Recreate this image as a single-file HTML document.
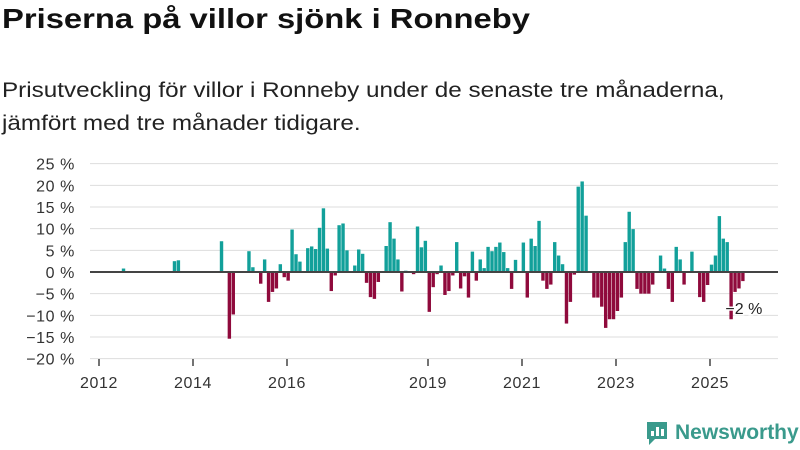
<!DOCTYPE html>
<html><head><meta charset="utf-8"><style>
body{margin:0;width:800px;height:450px;background:#fff;font-family:"Liberation Sans",sans-serif;overflow:hidden;position:relative}
h1{position:absolute;left:2px;top:3px;margin:0;font-size:28px;font-weight:bold;color:#111;transform:scaleX(1.17);transform-origin:0 0;white-space:nowrap}
p{position:absolute;left:2px;top:74px;margin:0;font-size:21px;line-height:33px;color:#222;transform:scaleX(1.155);transform-origin:0 0;white-space:nowrap}
</style></head><body>
<h1>Priserna på villor sjönk i Ronneby</h1>
<p>Prisutveckling för villor i Ronneby under de senaste tre månaderna,<br>jämfört med tre månader tidigare.</p>
<svg id="chart" width="800" height="450" style="position:absolute;left:0;top:0"></svg>
<div style="position:absolute;left:645px;top:420px;display:flex;align-items:center;gap:6px">
<svg width="24" height="26"><path d="M2 2h20v17h-12l-6 6v-6h-2z" fill="#3a9a8c"/><rect x="6" y="11" width="3" height="5" fill="#fff"/><rect x="11" y="7" width="3" height="9" fill="#fff"/><rect x="16" y="9" width="3" height="7" fill="#fff"/></svg>
<span style="font-size:21px;color:#3a9a8c;font-weight:bold">Newsworthy</span></div>
<script>
const months=[6,19,20,31,33,34,38,39,41,42,43,44,45,46,47,48,49,50,51,53,54,55,56,57,58,59,60,61,62,63,65,66,67,68,69,70,71,73,74,75,76,77,78,80,81,82,83,84,85,86,87,88,89,90,91,92,93,94,95,96,97,98,99,100,101,102,103,104,105,106,108,109,110,111,112,113,114,115,116,117,118,119,120,121,122,123,124,126,127,128,129,130,131,132,133,134,135,136,137,138,139,140,141,143,144,145,146,147,148,149,151,153,154,155,156,157,158,159,160,161,162,163,164];
const values=[0.8,2.5,2.7,7.1,-15.4,-9.8,4.8,1.1,-2.7,2.9,-6.9,-4.6,-3.8,1.8,-1.2,-2,9.8,4.1,2.4,5.5,5.9,5.3,10.2,14.7,5.4,-4.4,-0.8,10.8,11.2,5,1.5,5.2,4.2,-2.5,-5.8,-6.2,-2.3,6,11.5,7.7,2.9,-4.5,0.3,-0.5,10.5,5.7,7.2,-9.2,-3.5,-0.5,1.5,-5.3,-4.4,-0.8,6.9,-3.8,-1,-5.9,4.7,-2,2.9,0.9,5.8,4.8,5.8,6.8,4.6,0.9,-3.9,2.8,6.8,-5.9,7.7,6,11.8,-2,-3.9,-2.9,6.9,3.8,1.8,-11.9,-6.9,-0.6,19.7,20.9,13,-5.9,-5.9,-8,-12.9,-10.9,-10.9,-9,-5.9,6.9,13.9,9.9,-3.9,-5,-5,-5,-2.9,3.8,0.8,-3.9,-6.9,5.8,2.9,-2.9,4.7,-5.8,-6.9,-3,1.7,3.8,12.9,7.7,6.9,-10.9,-4.6,-3.8,-2.1];
const yTicks=[25,20,15,10,5,0,-5,-10,-15,-20];
const yearTicks=[2012,2014,2016,2019,2021,2023,2025];
const NS="http://www.w3.org/2000/svg",svg=document.getElementById('chart');
const y=v=>272-v*4.333, x=m=>99+m*3.92+1, xYear=yr=>99+(yr-2012)*47;
function mk(t,a){const e=document.createElementNS(NS,t);for(const k in a)e.setAttribute(k,a[k]);svg.appendChild(e);return e;}
yTicks.forEach(v=>{
 const l=mk('line',{x1:90,x2:778,y1:y(v),y2:y(v),stroke:'#ddd','stroke-width':1});
 
 
 const t=mk('text',{x:75,y:y(v)+6,'text-anchor':'end','font-size':16,'letter-spacing':0.6,fill:'#333'});
 t.textContent=(v<0?'−'+(-v):v)+' %';
 
 
});
yearTicks.forEach(yr=>{
 const l=mk('line',{x1:xYear(yr),x2:xYear(yr),y1:359,y2:366,stroke:'#444','stroke-width':1.5});
 
 
 const t=mk('text',{x:xYear(yr),y:388,'text-anchor':'middle','font-size':16,'letter-spacing':0.6,fill:'#333'});
 t.textContent=yr;
 
 
});
months.forEach((m,i)=>{
 const v=values[i];
 const r=mk('rect',{x:x(m)-1.7,width:3.4,y:Math.min(y(v),y(0)),height:Math.abs(y(v)-y(0)),fill:v>=0?'#12a09a':'#8f0a3c'});
 
 
});
const z=mk('line',{x1:90,x2:778,y1:y(0),y2:y(0),stroke:'#444','stroke-width':2});


const last=values[values.length-1];
const lab=mk('text',{x:x(months[months.length-1])+1,y:y(last)+33,'text-anchor':'middle','font-size':16,fill:'#222',stroke:'#fff','stroke-width':3,'paint-order':'stroke'});
lab.textContent='−'+Math.round(-last)+' %';


</script>
</body></html>
